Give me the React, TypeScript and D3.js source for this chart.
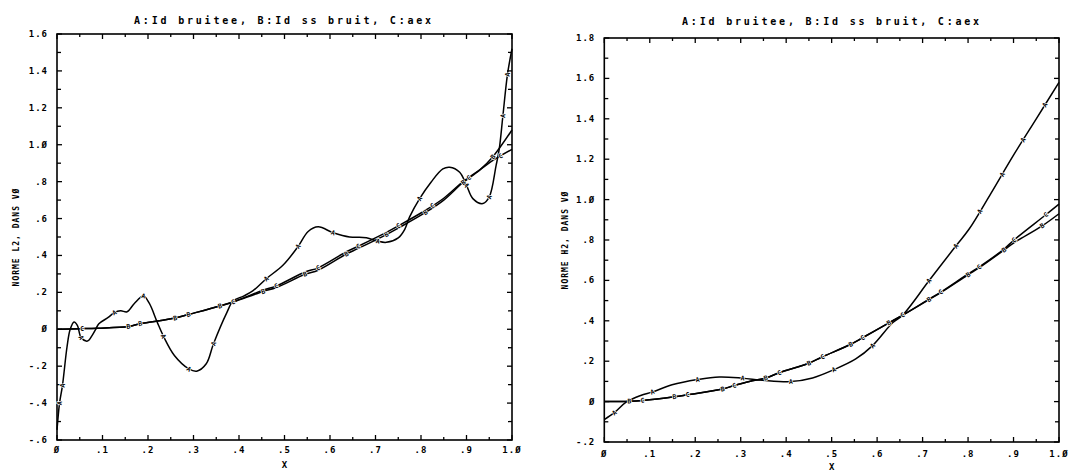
import React, { useEffect, useRef } from 'react';
import * as d3 from 'd3';

const TITLE = 'A:Id bruitee, B:Id ss bruit, C:aex';
const X_TITLE = 'X';
const LEFT_Y_TITLE = 'NORME L2, DANS VØ';
const RIGHT_Y_TITLE = 'NORME H2, DANS VØ';

const xTickValues = [0, 0.1, 0.2, 0.3, 0.4, 0.5, 0.6, 0.7, 0.8, 0.9, 1.0];
const xTickLabels = ['Ø', '.1', '.2', '.3', '.4', '.5', '.6', '.7', '.8', '.9', '1.Ø'];

const leftYTickValues = [-0.6, -0.4, -0.2, 0, 0.2, 0.4, 0.6, 0.8, 1.0, 1.2, 1.4, 1.6];
const leftYTickLabels = ['-.6', '-.4', '-.2', 'Ø', '.2', '.4', '.6', '.8', '1.Ø', '1.2', '1.4', '1.6'];
const rightYTickValues = [-0.2, 0, 0.2, 0.4, 0.6, 0.8, 1.0, 1.2, 1.4, 1.6, 1.8];
const rightYTickLabels = ['-.2', 'Ø', '.2', '.4', '.6', '.8', '1.Ø', '1.2', '1.4', '1.6', '1.8'];

// Left panel (norme L2)
const leftAx = [0, 0.0056, 0.012, 0.022, 0.029, 0.0375, 0.045, 0.053, 0.067, 0.078, 0.085, 0.092, 0.1125, 0.126, 0.14, 0.154, 0.17, 0.19, 0.203, 0.22, 0.234, 0.258, 0.29, 0.307, 0.328, 0.344, 0.373, 0.387, 0.41, 0.431, 0.46, 0.497, 0.53, 0.552, 0.574, 0.607, 0.643, 0.68, 0.705, 0.724, 0.75, 0.764, 0.775, 0.797, 0.822, 0.848, 0.863, 0.885, 0.9, 0.914, 0.936, 0.95, 0.965, 0.972, 0.98, 0.99, 1.0];
const leftAy = [-0.545, -0.4, -0.305, -0.096, 0.0, 0.04, 0.02, -0.045, -0.064, -0.03, 0.0, 0.03, 0.064, 0.09, 0.1, 0.095, 0.14, 0.18, 0.14, 0.04, -0.038, -0.142, -0.215, -0.227, -0.187, -0.078, 0.089, 0.153, 0.18, 0.209, 0.274, 0.348, 0.449, 0.53, 0.555, 0.523, 0.5, 0.496, 0.477, 0.471, 0.495, 0.54, 0.609, 0.708, 0.797, 0.869, 0.878, 0.851, 0.78, 0.708, 0.681, 0.717, 0.887, 0.977, 1.157, 1.38, 1.52];
const leftAMarks = [0.0056, 0.012, 0.053, 0.126, 0.19, 0.234, 0.29, 0.344, 0.46, 0.53, 0.607, 0.705, 0.797, 0.9, 0.95, 0.98, 0.99];

const leftBx = [0, 0.05, 0.09, 0.157, 0.183, 0.26, 0.289, 0.358, 0.387, 0.453, 0.482, 0.545, 0.574, 0.636, 0.662, 0.724, 0.75, 0.81, 0.85, 0.89, 0.93, 0.958, 1.0];
const leftBy = [0, 0.003, 0.006, 0.015, 0.03, 0.061, 0.08, 0.126, 0.148, 0.205, 0.226, 0.298, 0.32, 0.408, 0.438, 0.513, 0.548, 0.633, 0.7, 0.79, 0.865, 0.935, 1.08];
const leftBMarks = [0.157, 0.183, 0.26, 0.289, 0.358, 0.453, 0.545, 0.636, 0.724, 0.81, 0.893, 0.958];

const leftCx = [0, 0.05, 0.09, 0.157, 0.183, 0.26, 0.289, 0.358, 0.387, 0.453, 0.482, 0.545, 0.574, 0.636, 0.662, 0.724, 0.75, 0.81, 0.85, 0.89, 0.93, 0.958, 1.0];
const leftCy = [0, 0.003, 0.006, 0.015, 0.03, 0.061, 0.08, 0.126, 0.148, 0.212, 0.235, 0.31, 0.333, 0.42, 0.45, 0.525, 0.56, 0.645, 0.71, 0.795, 0.865, 0.915, 0.975];
const leftCMarks = [0.055, 0.387, 0.482, 0.574, 0.662, 0.75, 0.825, 0.905, 0.975];

// Right panel (norme H2)
const rightAx = [0, 0.022, 0.048, 0.08, 0.106, 0.149, 0.205, 0.253, 0.304, 0.348, 0.41, 0.458, 0.505, 0.553, 0.59, 0.634, 0.656, 0.714, 0.773, 0.802, 0.85, 0.9, 0.95, 1.0];
const rightAy = [-0.089, -0.055, -0.003, 0.03, 0.048, 0.083, 0.109, 0.122, 0.116, 0.106, 0.099, 0.117, 0.158, 0.211, 0.277, 0.39, 0.428, 0.598, 0.77, 0.853, 1.03, 1.22, 1.4, 1.58];
const rightAMarks = [0.022, 0.106, 0.205, 0.304, 0.41, 0.505, 0.59, 0.714, 0.773, 0.826, 0.875, 0.921, 0.969];

const rightBx = [0, 0.055, 0.084, 0.154, 0.183, 0.26, 0.286, 0.319, 0.355, 0.385, 0.45, 0.48, 0.542, 0.568, 0.626, 0.656, 0.714, 0.74, 0.8, 0.824, 0.879, 0.9, 0.963, 1.0];
const rightBy = [0, 0.002, 0.006, 0.024, 0.034, 0.062, 0.08, 0.1, 0.117, 0.143, 0.19, 0.222, 0.284, 0.316, 0.39, 0.428, 0.505, 0.54, 0.628, 0.662, 0.75, 0.785, 0.87, 0.93];
const rightBMarks = [0.055, 0.154, 0.26, 0.355, 0.45, 0.542, 0.626, 0.714, 0.8, 0.879, 0.963];

const rightCx = [0, 0.055, 0.084, 0.154, 0.183, 0.26, 0.286, 0.319, 0.355, 0.385, 0.45, 0.48, 0.542, 0.568, 0.626, 0.656, 0.714, 0.74, 0.8, 0.824, 0.879, 0.901, 0.971, 1.0];
const rightCy = [0, 0.002, 0.006, 0.024, 0.034, 0.062, 0.08, 0.1, 0.117, 0.143, 0.19, 0.222, 0.284, 0.316, 0.39, 0.428, 0.507, 0.542, 0.632, 0.666, 0.755, 0.8, 0.925, 0.978];
const rightCMarks = [0.084, 0.183, 0.286, 0.385, 0.48, 0.568, 0.656, 0.74, 0.824, 0.901, 0.971];

type Series = { xs: number[]; ys: number[]; marks: number[]; glyph: string; size: number };
type Panel = {
  xRange: [number, number];
  yRange: [number, number];
  yDomain: [number, number];
  yTicks: number[];
  yLabels: string[];
  yTitle: string;
  yTitleX: number;
  titleX: number;
  titleY: number;
  xLabelY: number;
  xTitleY: number;
  series: Series[];
};

const panels: Panel[] = [
  {
    xRange: [57, 512], yRange: [440, 34], yDomain: [-0.6, 1.6],
    yTicks: leftYTickValues, yLabels: leftYTickLabels, yTitle: LEFT_Y_TITLE, yTitleX: 18.5,
    titleX: 284, titleY: 24, xLabelY: 453, xTitleY: 468,
    series: [
      { xs: leftAx, ys: leftAy, marks: leftAMarks, glyph: 'A', size: 6.5 },
      { xs: leftCx, ys: leftCy, marks: leftCMarks, glyph: 'C', size: 6.5 },
      { xs: leftBx, ys: leftBy, marks: leftBMarks, glyph: 'B', size: 6.5 },
    ],
  },
  {
    xRange: [604.3, 1059], yRange: [442, 38], yDomain: [-0.2, 1.8],
    yTicks: rightYTickValues, yLabels: rightYTickLabels, yTitle: RIGHT_Y_TITLE, yTitleX: 568,
    titleX: 832, titleY: 25, xLabelY: 457, xTitleY: 470,
    series: [
      { xs: rightAx, ys: rightAy, marks: rightAMarks, glyph: 'A', size: 6.5 },
      { xs: rightCx, ys: rightCy, marks: rightCMarks, glyph: 'C', size: 6.5 },
      { xs: rightBx, ys: rightBy, marks: rightBMarks, glyph: 'B', size: 6.5 },
    ],
  },
];

const FONT = "'DejaVu Sans Mono', monospace";

function interp(xs: number[], ys: number[], x: number): number {
  const i = Math.max(1, Math.min(xs.length - 1, d3.bisectLeft(xs, x)));
  const x0 = xs[i - 1], x1 = xs[i];
  const t = (x - x0) / (x1 - x0);
  return ys[i - 1] + t * (ys[i] - ys[i - 1]);
}

export default function App() {
  const ref = useRef<SVGSVGElement | null>(null);

  useEffect(() => {
    const svg = d3.select(ref.current);
    svg.selectAll('*').remove();
    svg.append('rect').attr('width', 1092).attr('height', 471).attr('fill', '#fff');

    panels.forEach((p) => {
      const x = d3.scaleLinear().domain([0, 1]).range(p.xRange);
      const y = d3.scaleLinear().domain(p.yDomain).range(p.yRange);
      const g = svg.append('g');
      const [xl, xr] = p.xRange;
      const [yb, yt] = p.yRange;

      // frame
      g.append('rect').attr('x', xl).attr('y', yt).attr('width', xr - xl).attr('height', yb - yt)
        .attr('fill', 'none').attr('stroke', '#000').attr('stroke-width', 1.6);

      // x ticks (bottom and top, inward)
      const xMinor = d3.range(0, 1.0001, 0.05);
      xMinor.forEach((v, i) => {
        const len = i % 2 === 0 ? 5 : 3;
        g.append('line').attr('x1', x(v)).attr('x2', x(v)).attr('y1', yb).attr('y2', yb - len)
          .attr('stroke', '#000').attr('stroke-width', 1.3);
        g.append('line').attr('x1', x(v)).attr('x2', x(v)).attr('y1', yt).attr('y2', yt + len)
          .attr('stroke', '#000').attr('stroke-width', 1.3);
      });
      // y ticks (left and right, inward)
      const yMinor = d3.range(p.yDomain[0], p.yDomain[1] + 0.0001, 0.1);
      yMinor.forEach((v, i) => {
        const len = i % 2 === 0 ? 5 : 4;
        g.append('line').attr('x1', xl).attr('x2', xl + len).attr('y1', y(v)).attr('y2', y(v))
          .attr('stroke', '#000').attr('stroke-width', 1.3);
        g.append('line').attr('x1', xr).attr('x2', xr - len).attr('y1', y(v)).attr('y2', y(v))
          .attr('stroke', '#000').attr('stroke-width', 1.3);
      });

      // tick labels
      g.selectAll('text.xl').data(xTickValues).enter().append('text')
        .attr('x', (d) => x(d)).attr('y', p.xLabelY).attr('text-anchor', 'middle')
        .attr('font-family', FONT).attr('font-weight', 'bold').attr('font-size', 9)
        .attr('letter-spacing', 1)
        .text((_, i) => xTickLabels[i]);
      g.selectAll('text.yl').data(p.yTicks).enter().append('text')
        .attr('x', xl - 9).attr('y', (d) => y(d) + 3).attr('text-anchor', 'end')
        .attr('font-family', FONT).attr('font-weight', 'bold').attr('font-size', 9)
        .attr('letter-spacing', 1)
        .text((_, i) => p.yLabels[i]);

      // titles
      g.append('text').attr('x', p.titleX).attr('y', p.titleY).attr('text-anchor', 'middle')
        .attr('font-family', FONT).attr('font-weight', 'bold').attr('font-size', 10).attr('letter-spacing', 2.8)
        .text(TITLE);
      g.append('text').attr('x', (xl + xr) / 2).attr('y', p.xTitleY).attr('text-anchor', 'middle')
        .attr('font-family', FONT).attr('font-weight', 'bold').attr('font-size', 9)
        .text(X_TITLE);
      g.append('text')
        .attr('transform', `translate(${p.yTitleX},${(yb + yt) / 2}) rotate(-90)`)
        .attr('text-anchor', 'middle')
        .attr('font-family', FONT).attr('font-weight', 'bold').attr('font-size', 8).attr('letter-spacing', 1)
        .text(p.yTitle);

      // curves
      const line = d3.line<[number, number]>()
        .x((d) => x(d[0])).y((d) => y(d[1]))
        .curve(d3.curveCatmullRom.alpha(0.5));
      p.series.forEach((s) => {
        const pts: [number, number][] = s.xs.map((v, i) => [v, s.ys[i]]);
        g.append('path').attr('d', line(pts) as string).attr('fill', 'none')
          .attr('stroke', '#000').attr('stroke-width', 1.5);
      });
      // markers (series letters written along the curves)
      p.series.forEach((s) => {
        s.marks.forEach((m) => {
          const my = interp(s.xs, s.ys, m);
          const dx = x(Math.min(1, m + 0.005)) - x(Math.max(0, m - 0.005));
          const dy = y(interp(s.xs, s.ys, Math.min(1, m + 0.005))) - y(interp(s.xs, s.ys, Math.max(0, m - 0.005)));
          const ang = (Math.atan2(dy, dx) * 180) / Math.PI;
          g.append('text')
            .attr('transform', `translate(${x(m)},${y(my)}) rotate(${ang})`)
            .attr('text-anchor', 'middle').attr('dy', '0.35em')
            .attr('font-family', FONT).attr('font-weight', 'bold').attr('font-size', s.size)
            .attr('stroke', '#fff').attr('stroke-width', 1.4).attr('paint-order', 'stroke')
            .attr('fill', '#000')
            .text(s.glyph);
        });
      });
    });
  }, []);

  return (
    <svg ref={ref} width={1092} height={471}
      style={{ position: 'absolute', left: 0, top: 0, display: 'block' }} />
  );
}
